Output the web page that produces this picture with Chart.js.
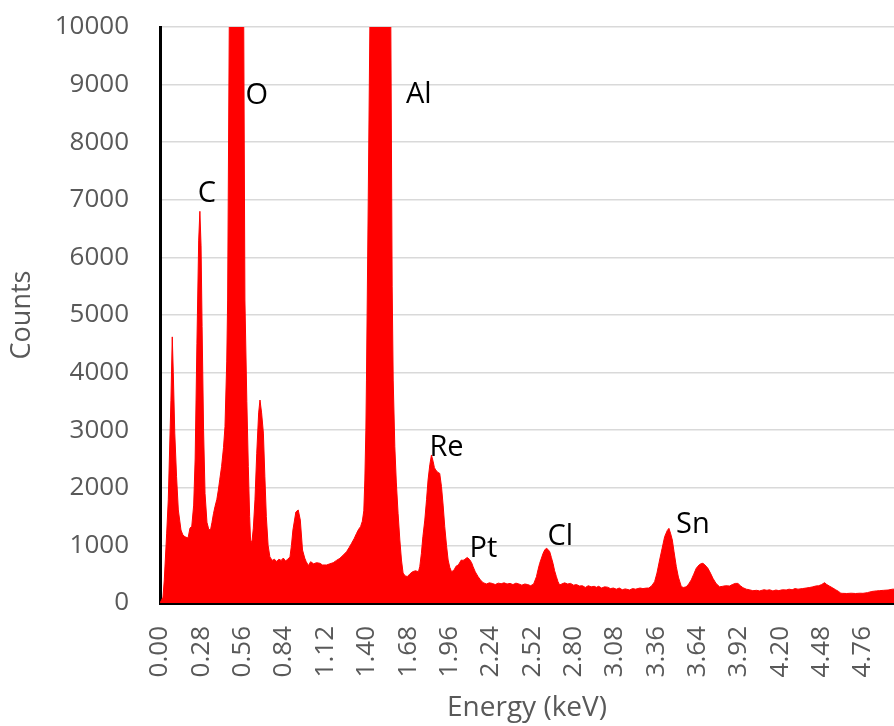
<!DOCTYPE html>
<html>
<head>
<meta charset="utf-8">
<title>EDS spectrum</title>
<script src="https://cdn.jsdelivr.net/npm/chart.js@4.4.1/dist/chart.umd.min.js"></script>
<style>
  html, body { margin: 0; padding: 0; background: #fff; }
  #wrap { width: 894px; height: 726px; position: relative; }
</style>
</head>
<body>
<div id="wrap"><canvas id="spectrum"></canvas></div>
<script>
// энергия (кэВ) и счёт
const energyKeV = [
  0.00, 0.02, 0.029, 0.045, 0.056, 0.074, 0.083, 0.09, 0.10, 0.112, 0.124, 0.142, 0.155, 0.169, 0.19,
  0.203, 0.215, 0.228, 0.238, 0.25, 0.262, 0.27, 0.278, 0.285, 0.295, 0.305, 0.318, 0.33, 0.342, 0.352,
  0.362, 0.372, 0.385, 0.395, 0.405, 0.417, 0.43, 0.44, 0.452, 0.458, 0.469, 0.49, 0.515, 0.54, 0.567,
  0.575, 0.588, 0.598, 0.607, 0.613, 0.622, 0.632, 0.643, 0.655, 0.668, 0.677, 0.688, 0.70, 0.71, 0.72,
  0.732, 0.744, 0.76, 0.775, 0.79, 0.805, 0.82, 0.835, 0.85, 0.865, 0.88, 0.89, 0.90, 0.92, 0.936,
  0.95, 0.965, 0.98, 0.99, 1.005, 1.02, 1.04, 1.06, 1.083, 1.10, 1.128, 1.15, 1.173, 1.195, 1.218,
  1.24, 1.263, 1.28, 1.297, 1.315, 1.331, 1.345, 1.358, 1.37, 1.38, 1.387, 1.394, 1.398, 1.41, 1.421,
  1.45, 1.49, 1.53, 1.548, 1.563, 1.572, 1.579, 1.59, 1.60, 1.612, 1.624, 1.635, 1.646, 1.66, 1.675,
  1.69, 1.71, 1.73, 1.75, 1.759, 1.77, 1.78, 1.793, 1.805, 1.815, 1.827, 1.838, 1.85, 1.858, 1.867,
  1.88, 1.894, 1.906, 1.917, 1.928, 1.94, 1.951, 1.962, 1.974, 1.99, 2.005, 2.02, 2.04, 2.052, 2.064,
  2.08, 2.095, 2.11, 2.12, 2.135, 2.154, 2.17, 2.188, 2.21, 2.23, 2.25, 2.27, 2.29, 2.31, 2.33,
  2.35, 2.37, 2.39, 2.41, 2.43, 2.45, 2.47, 2.49, 2.51, 2.53, 2.549, 2.56, 2.571, 2.583, 2.594,
  2.605, 2.616, 2.627, 2.639, 2.65, 2.661, 2.672, 2.684, 2.695, 2.706, 2.72, 2.74, 2.76, 2.78, 2.80,
  2.82, 2.84, 2.86, 2.88, 2.90, 2.92, 2.94, 2.955, 2.97, 2.99, 3.01, 3.03, 3.05, 3.07, 3.09,
  3.11, 3.13, 3.15, 3.18, 3.20, 3.22, 3.25, 3.27, 3.293, 3.31, 3.33, 3.349, 3.365, 3.383, 3.40,
  3.417, 3.435, 3.446, 3.458, 3.469, 3.48, 3.496, 3.51, 3.53, 3.545, 3.563, 3.58, 3.597, 3.614, 3.631,
  3.65, 3.665, 3.676, 3.69, 3.71, 3.727, 3.744, 3.765, 3.789, 3.81, 3.83, 3.857, 3.875, 3.895, 3.913,
  3.93, 3.947, 3.97, 3.99, 4.014, 4.04, 4.06, 4.09, 4.11, 4.127, 4.15, 4.17, 4.19, 4.215, 4.24,
  4.26, 4.28, 4.30, 4.32, 4.35, 4.375, 4.40, 4.42, 4.44, 4.46, 4.48, 4.50, 4.515, 4.535, 4.556,
  4.575, 4.595, 4.61, 4.62, 4.65, 4.68, 4.71, 4.74, 4.76, 4.79, 4.82, 4.85, 4.87, 4.90, 4.93,
  4.96, 4.97
];

const counts = [
  0, 100, 400, 1200, 1790, 3520, 4620, 4000, 2950, 2200, 1615, 1267, 1180, 1150, 1128,
  1300, 1330, 1700, 2500, 4500, 6300, 6800, 6200, 4800, 3000, 1900, 1400, 1280, 1267, 1400,
  1550, 1670, 1800, 1960, 2150, 2370, 2700, 3060, 4200, 5260, 10000, 24000, 30000, 24000, 10000,
  5260, 3500, 2370, 1500, 1094, 1050, 1300, 1790, 2600, 3300, 3524, 3300, 2950, 2200, 1500,
  1000, 800, 740, 760, 720, 760, 740, 780, 730, 760, 800, 1000, 1267, 1580, 1615,
  1440, 920, 780, 717, 650, 717, 680, 700, 689, 660, 660, 680, 700, 740, 776,
  830, 890, 960, 1036, 1120, 1210, 1280, 1325, 1420, 1600, 2135, 3000, 3870, 7000, 10000,
  40000, 60000, 40000, 20000, 10000, 5500, 3870, 2713, 2100, 1557, 1094, 746, 520, 470, 460,
  500, 543, 560, 543, 630, 862, 1150, 1440, 1800, 2135, 2400, 2570, 2450, 2350, 2310,
  2270, 2250, 2020, 1700, 1325, 1000, 746, 620, 543, 570, 640, 660, 746, 740, 758,
  790, 760, 700, 630, 540, 457, 400, 353, 330, 350, 340, 320, 345, 335, 350,
  330, 340, 320, 345, 330, 310, 330, 320, 300, 330, 457, 580, 689, 780, 862,
  920, 950, 930, 890, 790, 689, 560, 457, 370, 312, 330, 350, 330, 340, 310,
  320, 295, 300, 270, 300, 280, 290, 272, 290, 260, 280, 275, 250, 260, 240,
  260, 230, 245, 226, 250, 240, 260, 250, 259, 260, 300, 370, 520, 746, 950,
  1151, 1260, 1296, 1200, 1094, 900, 630, 450, 283, 270, 280, 330, 400, 500, 602,
  660, 685, 689, 660, 602, 520, 429, 340, 280, 290, 300, 295, 320, 340, 340,
  300, 266, 240, 230, 214, 220, 210, 230, 220, 230, 210, 225, 215, 230, 226,
  240, 230, 250, 240, 250, 260, 270, 280, 295, 300, 320, 353, 320, 290, 260,
  230, 200, 170, 168, 165, 170, 165, 170, 168, 180, 200, 210, 214, 220, 225,
  240, 240
];

// подписи оси X (шаг 0.28 кэВ)
const energyTicks = [0.00, 0.28, 0.56, 0.84, 1.12, 1.40, 1.68, 1.96, 2.24, 2.52, 2.80, 3.08, 3.36, 3.64, 3.92, 4.20, 4.48, 4.76];

// подписи пиков: элемент и точка привязки (кэВ, counts)
const peakNames = ["C", "O", "Al", "Re", "Pt", "Cl", "Sn"];
const peakLabelKeV = [0.318, 0.656, 1.752, 1.94, 2.19, 2.71, 3.608];
const peakLabelCounts = [7100, 8800, 8830, 2690, 945, 1150, 1365];

const points = energyKeV.map((e, i) => ({ x: e, y: counts[i] }));

// плагин: подписи элементов над пиками
const peakLabels = {
  id: "peakLabels",
  afterDatasetsDraw(chart) {
    const { ctx, scales } = chart;
    ctx.save();
    ctx.font = "29px 'Open Sans'";
    ctx.fillStyle = "#000";
    ctx.textAlign = "center";
    ctx.textBaseline = "middle";
    peakNames.forEach((name, i) => {
      const px = scales.x.getPixelForValue(peakLabelKeV[i]);
      const py = scales.y.getPixelForValue(peakLabelCounts[i]);
      ctx.fillText(name, px, py);
    });
    ctx.restore();
  }
};

const ctx = document.getElementById("spectrum").getContext("2d");

new Chart(ctx, {
  type: "line",
  data: {
    datasets: [
      {
        label: "Counts",
        data: points,
        borderColor: "#ff0000",
        borderWidth: 1,
        backgroundColor: "#ff0000",
        fill: "origin",
        pointRadius: 0,
        tension: 0
      }
    ]
  },
  options: {
    responsive: true,
    maintainAspectRatio: false,
    animation: false,
    layout: { padding: { top: 27, left: 6, right: 0, bottom: 0 } },
    plugins: {
      legend: { display: false },
      tooltip: { enabled: false }
    },
    scales: {
      x: {
        type: "linear",
        min: 0,
        max: 4.97,
        afterBuildTicks: (scale) => {
          scale.ticks = energyTicks.map(v => ({ value: v }));
        },
        // фиксируем высоту оси, чтобы область графика совпала
        afterFit: (scale) => {
          scale.height = 123;
          scale.paddingLeft = 0;
          scale.paddingRight = 0;
        },
        grid: {
          display: true,
          color: "rgba(0,0,0,0)",
          drawTicks: true,
          tickLength: 23,
          tickColor: "rgba(0,0,0,0)"
        },
        border: { color: "#000", width: 3 },
        ticks: {
          autoSkip: false,
          minRotation: 90,
          maxRotation: 90,
          padding: 0,
          color: "#595959",
          font: { family: "'Open Sans'", size: 26 },
          callback: (v) => Number(v).toFixed(2)
        },
        title: {
          display: true,
          text: "Energy (keV)",
          color: "#595959",
          font: { family: "'Open Sans'", size: 28 },
          padding: { top: 10, bottom: 1 }
        }
      },
      y: {
        min: 0,
        max: 10000,
        afterFit: (scale) => {
          scale.width = 154;
          scale.paddingTop = 0;
          scale.paddingBottom = 0;
        },
        grid: {
          color: "#d9d9d9",
          lineWidth: 1.5,
          drawTicks: false
        },
        border: { color: "#000", width: 3 },
        ticks: {
          stepSize: 1000,
          padding: 31,
          color: "#595959",
          font: { family: "'Open Sans'", size: 26 },
          callback: (v) => String(v)
        },
        title: {
          display: true,
          text: "Counts",
          color: "#595959",
          font: { family: "'Open Sans'", size: 27 },
          padding: { top: 0, bottom: 12 }
        }
      }
    }
  },
  plugins: [peakLabels]
});
</script>
</body>
</html>
